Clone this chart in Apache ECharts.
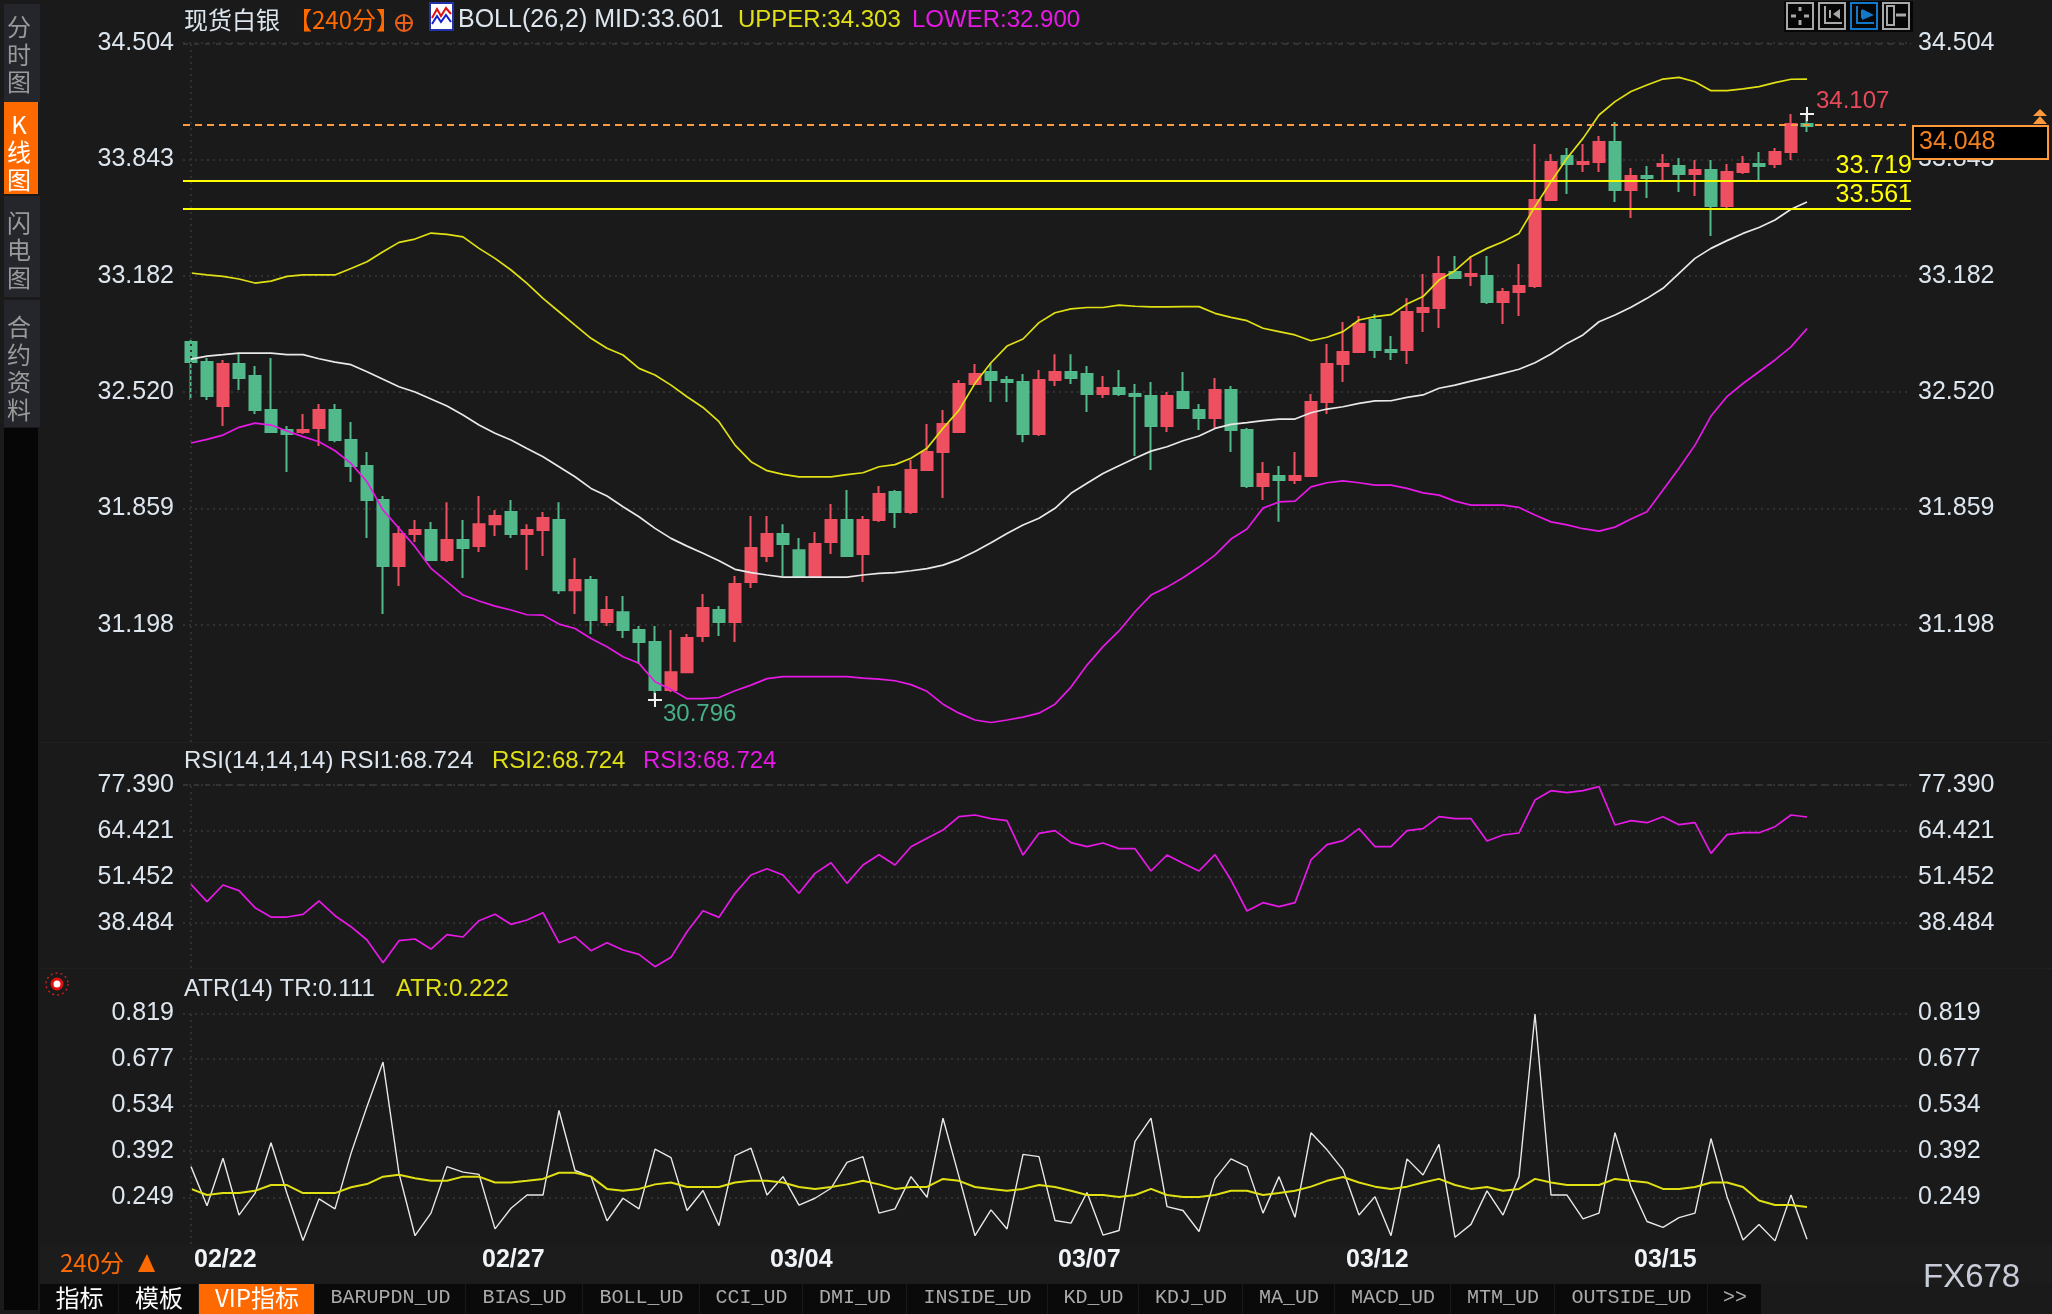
<!DOCTYPE html>
<html>
<head>
<meta charset="utf-8">
<style>html,body{margin:0;padding:0;background:#1a1a1a}#c{width:2052px;height:1314px}</style>
<script src="https://cdn.jsdelivr.net/npm/echarts@6/dist/echarts.min.js"></script>
</head>
<body>
<div id="c"></div>
<script>
const opens=[32.805,32.691,32.441,32.680,32.612,32.418,32.305,32.293,32.316,32.418,
32.248,32.100,31.907,31.532,31.714,31.736,31.566,31.680,31.646,31.770,
31.839,31.714,31.736,31.793,31.395,31.452,31.214,31.270,31.168,31.100,
30.827,30.929,31.134,31.282,31.214,31.441,31.589,31.714,31.622,31.471,
31.668,31.793,31.600,31.793,31.952,31.839,32.077,32.180,32.293,32.566,
32.634,32.589,32.577,32.282,32.589,32.634,32.623,32.509,32.543,32.509,
32.498,32.327,32.521,32.418,32.373,32.532,32.305,31.987,32.043,32.021,
32.043,32.464,32.680,32.748,32.930,32.759,32.759,32.975,32.998,33.203,
33.180,33.180,33.032,33.089,33.123,33.612,33.862,33.816,33.828,33.942,
33.669,33.748,33.805,33.805,33.760,33.782,33.578,33.771,33.816,33.816,
33.885,34.044];
const closes=[32.691,32.498,32.680,32.600,32.418,32.293,32.282,32.305,32.418,32.248,
32.100,31.907,31.532,31.714,31.736,31.566,31.680,31.634,31.770,31.816,
31.714,31.736,31.805,31.395,31.452,31.225,31.282,31.168,31.100,30.827,
30.929,31.123,31.293,31.214,31.430,31.634,31.714,31.657,31.471,31.657,
31.793,31.589,31.793,31.941,31.839,32.077,32.180,32.339,32.566,32.623,
32.589,32.577,32.282,32.589,32.634,32.600,32.509,32.543,32.509,32.498,
32.327,32.498,32.430,32.373,32.532,32.305,31.987,32.055,32.021,32.043,
32.464,32.680,32.748,32.907,32.759,32.748,32.975,32.998,33.191,33.169,
33.191,33.032,33.089,33.123,33.612,33.828,33.816,33.828,33.942,33.669,
33.748,33.737,33.816,33.760,33.782,33.578,33.771,33.816,33.805,33.885,
34.044,34.032];
const lows=[32.475,32.475,32.327,32.532,32.396,32.293,32.066,32.282,32.214,32.236,
32.009,31.691,31.259,31.418,31.668,31.566,31.555,31.464,31.611,31.702,
31.691,31.509,31.589,31.373,31.259,31.145,31.191,31.123,30.975,30.770,
30.816,30.929,31.100,31.134,31.100,31.407,31.555,31.475,31.471,31.471,
31.600,31.589,31.441,31.782,31.748,31.827,32.077,31.918,32.293,32.566,
32.464,32.464,32.236,32.271,32.555,32.566,32.407,32.487,32.498,32.157,
32.077,32.293,32.430,32.305,32.316,32.180,31.975,31.907,31.784,31.998,
32.043,32.396,32.577,32.748,32.714,32.703,32.680,32.862,32.884,33.169,
33.123,33.021,32.907,32.953,33.112,33.612,33.646,33.771,33.771,33.600,
33.510,33.623,33.726,33.657,33.635,33.407,33.566,33.760,33.725,33.794,
33.839,33.998];
const highs=[32.816,32.714,32.702,32.740,32.668,32.714,32.327,32.396,32.452,32.452,
32.350,32.180,31.930,31.759,31.793,31.782,31.895,31.793,31.930,31.850,
31.907,31.770,31.839,31.895,31.577,31.475,31.361,31.361,31.191,31.191,
31.168,31.145,31.373,31.305,31.475,31.816,31.816,31.770,31.691,31.725,
31.884,31.964,31.816,31.986,31.964,32.134,32.339,32.418,32.589,32.680,
32.684,32.612,32.623,32.646,32.736,32.736,32.668,32.612,32.646,32.566,
32.577,32.521,32.634,32.452,32.600,32.555,32.316,32.123,32.100,32.180,
32.509,32.793,32.919,32.953,32.964,32.839,33.055,33.191,33.294,33.294,
33.294,33.294,33.112,33.248,33.930,33.873,33.907,33.930,33.976,34.055,
33.794,33.805,33.873,33.850,33.839,33.839,33.816,33.862,33.885,33.907,
34.100,34.095];
const bollUpper=[33.197,33.186,33.178,33.163,33.140,33.151,33.178,33.186,33.186,33.186,
33.223,33.261,33.318,33.371,33.390,33.424,33.417,33.402,33.337,33.280,
33.214,33.138,33.053,32.977,32.901,32.826,32.769,32.731,32.655,32.617,
32.560,32.494,32.433,32.352,32.219,32.125,32.074,32.053,32.039,32.039,
32.039,32.051,32.062,32.096,32.108,32.144,32.201,32.314,32.418,32.570,
32.687,32.782,32.822,32.915,32.971,32.993,33.001,33.001,33.015,33.008,
33.004,33.004,33.006,33.006,32.968,32.945,32.926,32.883,32.864,32.845,
32.812,32.832,32.864,32.930,32.949,32.960,33.021,33.063,33.157,33.210,
33.290,33.337,33.375,33.422,33.574,33.716,33.849,33.962,34.095,34.171,
34.228,34.265,34.299,34.309,34.284,34.233,34.233,34.243,34.256,34.279,
34.298,34.299];
const bollMid=[32.708,32.725,32.733,32.742,32.742,32.742,32.733,32.733,32.710,32.691,
32.676,32.636,32.593,32.551,32.521,32.481,32.441,32.390,32.333,32.286,
32.248,32.200,32.153,32.096,32.039,31.973,31.930,31.869,31.812,31.746,
31.689,31.645,31.604,31.562,31.513,31.494,31.481,31.469,31.469,31.469,
31.469,31.469,31.481,31.490,31.494,31.505,31.517,31.537,31.570,31.615,
31.664,31.717,31.765,31.803,31.860,31.945,32.002,32.058,32.102,32.144,
32.185,32.210,32.244,32.271,32.314,32.337,32.347,32.358,32.367,32.367,
32.403,32.424,32.437,32.456,32.470,32.471,32.490,32.504,32.542,32.560,
32.583,32.604,32.627,32.650,32.687,32.737,32.797,32.845,32.920,32.958,
33.002,33.053,33.110,33.195,33.280,33.337,33.381,33.422,33.456,33.498,
33.559,33.600];
const bollLower=[32.231,32.252,32.276,32.320,32.344,32.333,32.299,32.267,32.238,32.187,
32.115,32.011,31.850,31.746,31.642,31.519,31.443,31.367,31.333,31.304,
31.282,31.255,31.253,31.202,31.177,31.120,31.073,31.016,30.979,30.874,
30.831,30.778,30.778,30.785,30.823,30.855,30.892,30.903,30.903,30.903,
30.903,30.903,30.895,30.889,30.880,30.858,30.820,30.747,30.696,30.657,
30.643,30.657,30.673,30.696,30.747,30.844,30.969,31.074,31.163,31.272,
31.367,31.412,31.465,31.526,31.594,31.685,31.742,31.861,31.896,31.901,
31.982,32.005,32.016,32.005,31.992,31.992,31.973,31.948,31.935,31.901,
31.878,31.878,31.878,31.865,31.822,31.783,31.766,31.744,31.730,31.753,
31.799,31.840,31.964,32.088,32.219,32.384,32.495,32.569,32.636,32.703,
32.777,32.881];
const rsi=[49.39,44.50,49.20,47.60,42.81,40.17,40.17,40.93,44.69,40.55,
37.45,33.69,27.30,33.50,33.97,31.15,35.19,34.54,39.14,40.93,
38.11,39.33,41.40,32.94,34.63,30.68,32.94,30.87,29.65,26.17,
28.80,36.04,41.96,40.08,46.85,52.02,53.80,52.02,46.85,52.48,
55.49,49.67,54.83,57.75,54.83,60.00,62.35,64.70,68.46,68.93,
67.90,67.33,57.65,63.76,64.52,61.13,60.00,61.04,59.44,59.44,
53.14,57.65,55.30,53.14,57.75,50.59,41.87,44.22,43.09,44.22,
56.25,60.57,61.70,65.08,60.00,60.00,64.52,65.08,68.46,67.90,
67.90,61.60,63.29,63.86,73.16,75.79,75.23,75.79,76.92,66.11,
67.33,66.77,68.46,66.21,66.77,58.12,63.39,63.95,63.95,65.64,
68.93,68.37];
const tr=[.344,.223,.370,.194,.261,.418,.261,.115,.244,.213,
.385,.530,.668,.323,.130,.200,.344,.327,.320,.151,
.215,.256,.256,.518,.332,.313,.176,.246,.213,.398,
.372,.208,.270,.161,.378,.401,.256,.313,.225,.246,
.277,.357,.375,.200,.213,.313,.249,.494,.313,.130,
.210,.151,.382,.375,.177,.169,.264,.132,.146,.422,
.494,.220,.208,.143,.306,.368,.344,.200,.313,.187,
.449,.396,.334,.194,.251,.130,.368,.318,.413,.125,
.165,.269,.194,.313,.817,.256,.256,.182,.200,.449,
.282,.174,.156,.186,.200,.431,.251,.117,.165,.114,
.256,.119];
const atr=[.275,.256,.262,.262,.269,.287,.287,.262,.262,.262,
.280,.290,.313,.319,.308,.300,.300,.313,.313,.295,
.295,.300,.306,.325,.325,.313,.275,.269,.275,.289,
.295,.281,.281,.281,.295,.300,.300,.295,.281,.275,
.281,.289,.300,.289,.275,.281,.281,.306,.300,.281,
.275,.269,.275,.287,.281,.269,.256,.256,.250,.256,
.275,.256,.250,.250,.256,.269,.269,.256,.262,.269,
.282,.300,.312,.295,.282,.275,.282,.295,.306,.287,
.275,.281,.269,.275,.306,.295,.287,.287,.287,.306,
.300,.295,.275,.275,.281,.295,.295,.281,.239,.225,
.225,.219];
const priceTicks=[34.504,33.843,33.182,32.520,31.859,31.198];
const rsiTicks=[77.390,64.421,51.452,38.484];
const atrTicks=[0.819,0.677,0.534,0.392,0.249];
const dateIndex=[0,18,36,54,72,90];
const dateLabels=['02/22','02/27','03/04','03/07','03/12','03/15'];
const supportLevels=[33.719,33.561];
const lastPriceLevel=34.040;
const lastPriceText='34.048';
const highPoint=[101,34.100,'34.107'];
const lowPoint=[29,30.770,'30.796'];
const sideTabs=['分\n时\n图','K\n线\n图','闪\n电\n图','合\n约\n资\n料'];
const bottomTabs=['指标','模板','VIP指标','BARUPDN_UD','BIAS_UD','BOLL_UD','CCI_UD','DMI_UD','INSIDE_UD','KD_UD','KDJ_UD','MA_UD','MACD_UD','MTM_UD','OUTSIDE_UD','>>'];

const slots=108;
const categories=Array.from({length:slots},(_,i)=>{const k=dateIndex.indexOf(i);return k>=0?dateLabels[k]:''});
const candles=opens.map((o,i)=>[o,closes[i],lows[i],highs[i]]);

const SANS='"Liberation Sans",Arial,sans-serif', CJK='"Noto Sans CJK SC","Liberation Sans",sans-serif', MONO='"Liberation Mono",monospace';
const LABEL='#dde6ee', YEL='#e0e014', MAG='#e619e6', WHT='#e8e8e8', RED='#ee5061', GRN='#52b98a', ORG='#ff6a00', PL='#ff9a3c';
const DOT={color:'#303030',type:[2,4],width:2};
const DASH={color:'#333333',type:[5,6],width:2};

function yAxes(gi,min,max,ticks,dec){
  const lab=(m)=>({show:true,customValues:ticks,margin:m,fontSize:25,padding:[0,0,2,0],fontFamily:SANS,color:LABEL,formatter:v=>Number(v).toFixed(dec)});
  return [
   {type:'value',gridIndex:gi,min,max,position:'left',axisLine:{show:false},axisTick:{show:false,customValues:ticks},axisLabel:lab(9),
    splitLine:{show:true,lineStyle:DOT,customValues:ticks}},
   {type:'value',gridIndex:gi,min,max,position:'right',axisLine:{show:false},axisTick:{show:false,customValues:ticks},axisLabel:lab(7),splitLine:{show:false}}
  ];
}
function xAxis(gi,withLabels){
  return {type:'category',gridIndex:gi,data:categories,boundaryGap:true,axisLine:{show:false},axisTick:{show:false},splitLine:{show:false},
    axisLabel:withLabels?{show:true,interval:(i)=>dateIndex.indexOf(i)>=0,align:'left',margin:4,padding:[0,0,0,3],fontSize:25,fontWeight:'bold',fontFamily:SANS,color:'#f0f4f8',hideOverlap:false}:{show:false}};
}
function frameMarks(top){
  return {silent:true,symbol:'none',animation:false,label:{show:false},
    data:[{xAxis:0,lineStyle:DOT},{yAxis:top,lineStyle:DASH}]};
}
function line(name,data,color,xi,yi,width,extra){
  return Object.assign({type:'line',name,data,xAxisIndex:xi,yAxisIndex:yi,showSymbol:false,symbol:'none',smooth:false,silent:true,
    lineStyle:{color,width},itemStyle:{color},animation:false},extra||{});
}

const CROSS='path://M0 6H14V8H0ZM6 0H8V14H6Z';
const g=[];
function T(x,y,text,fill,size,font,extra){
  g.push({type:'text',x,y,silent:true,z:(extra&&extra.z)||20,style:Object.assign({text,fill,font:(extra&&extra.weight?extra.weight+' ':'')+size+'px '+font,textAlign:(extra&&extra.align)||'left',textVerticalAlign:'middle',lineHeight:extra&&extra.lh},{})});
}
function R(x,y,w,h,fill,stroke,lw,z){
  g.push({type:'rect',silent:true,z:z==null?10:z,shape:{x,y,width:w,height:h},style:{fill:fill||'none',stroke:stroke||'none',lineWidth:lw||0}});
}
function L(pts,stroke,lw,z){
  g.push({type:'polyline',silent:true,z:z==null?21:z,shape:{points:pts},style:{fill:'none',stroke,lineWidth:lw||2}});
}
// separators & band under the date labels
R(40,1245,2012,38,'#1c1c1c',null,0,-1);
R(40,742,2012,1,'#202020',null,0,-1);
R(40,968,2012,1,'#202020',null,0,-1);
// left side tabs
R(4,4,36,98,'#24262c'); R(4,102,34,92,ORG); R(4,196,36,101,'#24262c'); R(4,300,36,127,'#24262c'); R(4,428,34,882,'#060606');
const tabY=[54.5,152,250,368.5];
sideTabs.forEach((t,i)=>T(19,tabY[i],t,i===1?'#ffffff':'#9a9a9a',24,CJK,{align:'center',lh:27.5}));
// header texts
T(184,20,'现货白银',LABEL,24,CJK);
T(288,20,'【240分】',ORG,24,CJK);
g.push({type:'circle',silent:true,z:20,shape:{cx:404,cy:23,r:8},style:{fill:'none',stroke:'#e8601a',lineWidth:2}});
L([[396,23],[412,23]],'#e8601a',2); L([[404,15],[404,31]],'#e8601a',2);
R(430,3,23,27,'#ffffff','#2233aa',2,20);
L([[432,18],[437,9],[441,16],[446,8],[451,14]],'#e01010',2); L([[432,24],[437,16],[441,22],[446,15],[451,22]],'#1020d0',2);
T(458,20,'BOLL(26,2) MID:33.601',LABEL,25,SANS);
T(738,20,'UPPER:34.303',YEL,24,SANS);
T(912,20,'LOWER:32.900',MAG,24,SANS);
T(184,761,'RSI(14,14,14) RSI1:68.724',LABEL,24,SANS);
T(492,761,'RSI2:68.724',YEL,24,SANS);
T(643,761,'RSI3:68.724',MAG,24,SANS);
T(184,989,'ATR(14) TR:0.111',LABEL,24,SANS);
T(396,989,'ATR:0.222',YEL,24,SANS);
// toolbar
[1787,1819,1851,1883].forEach((x,i)=>{
  const c=i===2?'#1577c8':'#a8a8a8';
  R(x-3,1,33,31,'#060606',null,0,20);
  R(x,3,26,26,'#060606',c,2,21);
  if(i===0){L([[x+13,7],[x+13,11]],c,3,22);L([[x+13,20],[x+13,25]],c,3,22);L([[x+4,16],[x+9,16]],c,3,22);L([[x+17,16],[x+22,16]],c,3,22);}
  if(i===1||i===2){L([[x+6,6],[x+6,23],[x+23,23]],c,2,22);L([[x+11,10],[x+11,18]],c,2,22);
    g.push({type:'polygon',silent:true,z:22,shape:{points:i===2?[[x+11,9],[x+23,15],[x+11,20]]:[[x+21,9],[x+14,14],[x+21,19]]},style:{fill:c}});}
  if(i===3){R(x+4,6,7,19,null,c,2,22);L([[x+13,15],[x+23,15]],c,3,22);}
});
// last price box
R(1913,126,135,33,'#000000',PL,2,30);
T(1919,142,lastPriceText,'#f08020',25,SANS,{z:31});
g.push({type:'polygon',silent:true,z:31,shape:{points:[[2033,116],[2040,109],[2047,116]]},style:{fill:PL}});
g.push({type:'polygon',silent:true,z:31,shape:{points:[[2033,124],[2040,116],[2047,124]]},style:{fill:PL}});
// period selector, brand
T(60,1263,'240分',ORG,24,CJK);
g.push({type:'polygon',silent:true,z:20,shape:{points:[[138,1272],[147,1254],[155,1272]]},style:{fill:ORG}});
T(1923,1278,'FX678','#c8ccd8',33,SANS);
// bottom tab bar
const tabEdges=[40,119,199,315,466,583,700,803,907,1048,1139,1243,1335,1451,1555,1708,1762];
bottomTabs.forEach((t,i)=>{
  const x0=tabEdges[i],x1=tabEdges[i+1];
  R(x0,1284,x1-x0-1,30,i===2?ORG:'#0a0a0a',null,0,10);
  const cjk=i<3;
  T((x0+x1)/2,1298,t,cjk?'#ffffff':'#aaaaaa',cjk?24:20,cjk?CJK:MONO,{align:'center'});
});
// target marker
g.push({type:'circle',silent:true,z:20,shape:{cx:57,cy:984,r:5},style:{fill:'#ffffff',stroke:'#e01010',lineWidth:3}});
g.push({type:'circle',silent:true,z:20,shape:{cx:57,cy:984,r:11},style:{fill:'none',stroke:'#c02020',lineWidth:1.5,lineDash:[2,3]}});

const option={
  backgroundColor:'#1a1a1a',animation:false,
  tooltip:{show:false},
  grid:[
    {left:183,width:1728,top:43,height:699},
    {left:183,width:1728,top:785,height:183},
    {left:183,width:1728,top:1013.3,height:230.7}
  ],
  xAxis:[xAxis(0,false),xAxis(1,false),xAxis(2,true)],
  yAxis:[...yAxes(0,30.532,34.504,priceTicks,3),...yAxes(1,25.80,77.390,rsiTicks,3),...yAxes(2,0.1043,0.819,atrTicks,3)],
  graphic:{elements:g},
  series:[
    {type:'candlestick',name:'K',xAxisIndex:0,yAxisIndex:0,data:candles,barWidth:12,silent:true,animation:false,
     itemStyle:{color:RED,color0:GRN,borderColor:RED,borderColor0:GRN,borderWidth:2},
     markLine:frameMarks(34.504),
     markPoint:{silent:true,animation:false,symbol:CROSS,symbolSize:14,itemStyle:{color:'#f0f0f0'},
       data:[
        {coord:[highPoint[0],highPoint[1]],label:{show:true,formatter:highPoint[2],position:'right',distance:2,offset:[0,-13],color:'#e84a5a',fontSize:24,fontFamily:SANS}},
        {coord:[lowPoint[0],lowPoint[1]],label:{show:true,formatter:lowPoint[2],position:'right',distance:1,offset:[0,14],color:'#48b088',fontSize:24,fontFamily:SANS}}
       ]}},
    line('UPPER',bollUpper,YEL,0,0,1.7),
    line('MID',bollMid,WHT,0,0,1.7),
    line('LOWER',bollLower,MAG,0,0,1.7,{
      markLine:{silent:true,symbol:'none',animation:false,
        data:[
          {yAxis:lastPriceLevel,lineStyle:{color:PL,type:[7,5],width:2},label:{show:false}},
          ...supportLevels.map(v=>({yAxis:v,lineStyle:{color:'#ffff00',type:'solid',width:2},
            label:{show:true,position:'insideEndTop',distance:3,offset:[4,1],formatter:v.toFixed(3),color:'#ffff00',fontSize:25,fontFamily:SANS}}))
        ]}}),
    line('RSI',rsi,MAG,1,2,1.7,{markLine:frameMarks(77.390)}),
    line('TR',tr,WHT,2,4,1.4,{markLine:frameMarks(0.819)}),
    line('ATR',atr,YEL,2,4,2)
  ]
};
const chart=echarts.init(document.getElementById('c'),null,{renderer:'canvas',width:2052,height:1314,devicePixelRatio:1});
chart.setOption(option);
</script>
</body>
</html>
